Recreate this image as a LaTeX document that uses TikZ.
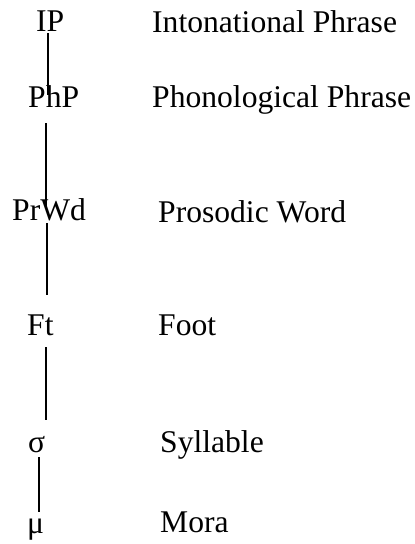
\documentclass[tikz,border=0pt]{standalone}
\usepackage{fontspec}
\setmainfont{Liberation Serif}
\usetikzlibrary{calc}
\begin{document}
\begin{tikzpicture}[x=1pt,y=-1pt,
  lbl/.style={inner sep=0pt,anchor=base west,font=\fontsize{31.6}{38}\selectfont},
  link/.style={line width=1.8pt}]
\useasboundingbox (0,0) rectangle (415,544);
% level nodes
\node[lbl] (IP) at (36,31) {IP};
\node[lbl] (PhP) at (28,107) {PhP};
\node[lbl] (PrWd) at (12,220) {PrWd};
\node[lbl] (Ft) at (27,335) {Ft};
\node[lbl] (sig) at (28,452) {σ};
\node[lbl] (mu) at (27,533) {μ};
% names
\node[lbl] (nIP) at (152,32) {Intonational Phrase};
\node[lbl] (nPhP) at (152,107) {Phonological Phrase};
\node[lbl] (nPrWd) at (158,222) {Prosodic Word};
\node[lbl] (nFt) at (158,335) {Foot};
\node[lbl] (nsig) at (160,452) {Syllable};
\node[lbl] (nmu) at (160,532) {Mora};
% connectors
\draw[link] ($(IP.base west)+(12,2)$) -- ($(PhP.base west)+(20,-12)$);
\draw[link] ($(PhP.base west)+(18,16)$) -- ($(PrWd.base west)+(34,-13)$);
\draw[link] ($(PrWd.base west)+(35,3)$) -- ($(Ft.base west)+(20,-40)$);
\draw[link] ($(Ft.base west)+(19,12)$) -- ($(sig.base west)+(18,-32)$);
\draw[link] ($(sig.base west)+(11,5)$) -- ($(mu.base west)+(12,-21)$);
\end{tikzpicture}
\end{document}
